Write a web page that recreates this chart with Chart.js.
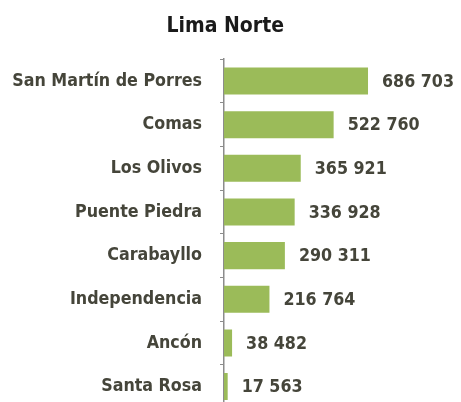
<!DOCTYPE html>
<html>
<head>
<meta charset="utf-8">
<script src="https://cdn.jsdelivr.net/npm/chart.js@4.4.0/dist/chart.umd.min.js"></script>
<style>
  html, body { margin: 0; padding: 0; background: #fff; overflow: hidden; }
</style>
</head>
<body>
<canvas id="chart" width="461" height="437"></canvas>
<script>
const districts = ['San Martín de Porres', 'Comas', 'Los Olivos', 'Puente Piedra', 'Carabayllo', 'Independencia', 'Ancón', 'Santa Rosa'];
const population = [686703, 522760, 365921, 336928, 290311, 216764, 38482, 17563];

const FONT = '"Liberation Sans Narrow", "DejaVu Sans Condensed", Arial, sans-serif';
const TEXT_COLOR = '#45453a';

// format 686703 -> "686 703"
function fmt(n) {
    return n.toString().replace(/\B(?=(\d{3})+(?!\d))/g, ' ');
}

// value labels at the end of each bar
const valueLabels = {
    id: 'valueLabels',
    afterDatasetsDraw(chart) {
        const ctx = chart.ctx;
        const meta = chart.getDatasetMeta(0);
        ctx.save();
        ctx.font = 'bold 17.7px ' + FONT;
        ctx.fillStyle = TEXT_COLOR;
        ctx.textAlign = 'left';
        ctx.textBaseline = 'middle';
        meta.data.forEach((bar, i) => {
            ctx.fillText(fmt(population[i]), bar.x + 14, bar.y + 1);
        });
        ctx.restore();
    }
};

const ctx = document.getElementById('chart').getContext('2d');
new Chart(ctx, {
    type: 'bar',
    data: {
        labels: districts,
        datasets: [{
            data: population,
            backgroundColor: '#9bbb59',
            borderWidth: 0,
            barPercentage: 0.62,
            categoryPercentage: 1
        }]
    },
    options: {
        indexAxis: 'y',
        responsive: false,
        animation: false,
        layout: { padding: { left: 0, right: 10.5, top: 0, bottom: 0 } },
        plugins: {
            legend: { display: false },
            tooltip: { enabled: false },
            title: {
                display: true,
                text: 'Lima Norte',
                color: '#1a1a1a',
                font: { family: FONT, size: 21, weight: 'bold' },
                padding: { top: 14, bottom: 20 }
            }
        },
        scales: {
            x: {
                display: false,
                min: 0,
                max: 1080000
            },
            y: {
                afterFit: s => { s.width = 224; },
                grid: {
                    drawOnChartArea: false,
                    drawTicks: true,
                    tickLength: 4,
                    color: '#8c8c8c',
                    offset: true
                },
                border: { display: true, color: '#8c8c8c', width: 1.5 },
                ticks: {
                    padding: 18,
                    color: TEXT_COLOR,
                    font: { family: FONT, size: 17.7, weight: 'bold' }
                }
            }
        }
    },
    plugins: [valueLabels]
});
</script>
</body>
</html>
